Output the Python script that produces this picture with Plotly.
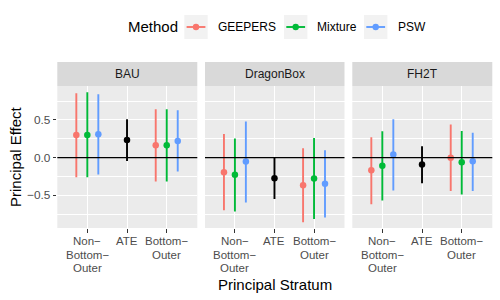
import plotly.graph_objects as go

panels = ["BAU", "DragonBox", "FH2T"]
tick_labels = ["Non\u2212<br>Bottom\u2212<br>Outer", "ATE", "Bottom\u2212<br>Outer"]
methods = ["GEEPERS", "Mixture", "PSW"]
method_colors = ["#F8766D", "#00BA38", "#619CFF"]

# per panel: [Non-Bottom-Outer, Bottom-Outer]
geepers_est = [[0.300, 0.164], [-0.194, -0.366], [-0.167, -0.004]]
geepers_lo = [[-0.260, -0.318], [-0.700, -0.860], [-0.620, -0.445]]
geepers_hi = [[0.853, 0.640], [0.314, 0.124], [0.270, 0.440]]

mixture_est = [[0.300, 0.164], [-0.229, -0.278], [-0.110, -0.061]]
mixture_lo = [[-0.260, -0.318], [-0.715, -0.816], [-0.570, -0.490]]
mixture_hi = [[0.866, 0.640], [0.252, 0.261], [0.350, 0.354]]

psw_est = [[0.310, 0.221], [-0.053, -0.348], [0.040, -0.048]]
psw_lo = [[-0.225, -0.185], [-0.596, -0.794], [-0.437, -0.445]]
psw_hi = [[0.840, 0.628], [0.480, 0.098], [0.510, 0.331]]

ate_est = [0.234, -0.273, -0.093]
ate_lo = [-0.044, -0.550, -0.340]
ate_hi = [0.510, 0.004, 0.150]

est = [geepers_est, mixture_est, psw_est]
lo = [geepers_lo, mixture_lo, psw_lo]
hi = [geepers_hi, mixture_hi, psw_hi]

W, H = 500, 300
FONT = "Liberation Sans, Arial, Helvetica, sans-serif"
TICK_SIZE = 11.8
XLAB_SIZE = 11.5
dodge = 0.277
offsets = [-dodge, 0.0, dodge]

panel_px = [(57.3, 197.3), (205.0, 344.5), (352.3, 492.3)]
y_top_px, y_bot_px = 86.0, 228.0
strip_top_px = 62.0
tick_line_px = [241.2, 254.6, 268.0]

def px(x):
    return x / W

def py(y):
    return 1 - y / H

fig = go.Figure()

for p in range(3):
    suffix = "" if p == 0 else str(p + 1)
    for m in range(3):
        e = est[m][p]
        l = lo[m][p]
        h = hi[m][p]
        fig.add_trace(go.Scatter(
            x=[1 + offsets[m], 3 + offsets[m]], y=e, mode="markers",
            marker=dict(color=method_colors[m], size=6.5),
            error_y=dict(type="data", symmetric=False,
                         array=[h[i] - e[i] for i in range(2)],
                         arrayminus=[e[i] - l[i] for i in range(2)],
                         color=method_colors[m], thickness=1.9, width=0),
            xaxis="x" + suffix, yaxis="y" + suffix, showlegend=False,
            name=methods[m]))
    fig.add_trace(go.Scatter(
        x=[2], y=[ate_est[p]], mode="markers",
        marker=dict(color="black", size=6.5),
        error_y=dict(type="data", symmetric=False,
                     array=[ate_hi[p] - ate_est[p]],
                     arrayminus=[ate_est[p] - ate_lo[p]],
                     color="black", thickness=1.9, width=0),
        xaxis="x" + suffix, yaxis="y" + suffix, showlegend=False, name="ATE"))

layout = dict(
    width=W, height=H, margin=dict(l=0, r=0, t=0, b=0),
    paper_bgcolor="white", plot_bgcolor="#EBEBEB",
    font=dict(family=FONT, size=TICK_SIZE, color="#4D4D4D"),
)

shapes = []
annotations = []
for p in range(3):
    suffix = "" if p == 0 else str(p + 1)
    x0, x1 = panel_px[p]
    layout["xaxis" + suffix] = dict(
        domain=[px(x0), px(x1)], anchor="y" + suffix, range=[0.244, 3.77],
        tickvals=[1, 2, 3], ticktext=tick_labels, showticklabels=False,
        showgrid=True, gridcolor="white", gridwidth=1.3, zeroline=False,
        ticks="outside", ticklen=3.5, tickcolor="#333333", tickwidth=1,
        showline=False, fixedrange=True)
    layout["yaxis" + suffix] = dict(
        domain=[py(y_bot_px), py(y_top_px)], anchor="x" + suffix,
        range=[-0.935, 0.95], tickvals=[-0.5, 0.0, 0.5],
        ticktext=["\u22120.5", "0.0", "0.5"], showticklabels=(p == 0),
        showgrid=True, gridcolor="white", gridwidth=1.3, zeroline=False,
        ticks="outside" if p == 0 else "", ticklen=3.5, tickcolor="#333333",
        tickwidth=1, tickfont=dict(family=FONT, size=TICK_SIZE, color="#4D4D4D"),
        minor=dict(tickvals=[-0.75, -0.25, 0.25, 0.75], showgrid=True,
                   gridcolor="white", gridwidth=0.6, ticks=""),
        showline=False, fixedrange=True)
    # x tick labels, one annotation per line for ggplot-like line spacing
    for k, lab in enumerate(tick_labels):
        for j, line in enumerate(lab.split("<br>")):
            annotations.append(dict(
                text=line, xref="x" + suffix, yref="paper", x=k + 1,
                y=py(tick_line_px[j]), xanchor="center", yanchor="middle",
                showarrow=False, borderpad=0,
                font=dict(family=FONT, size=XLAB_SIZE, color="#4D4D4D")))
    # strip
    shapes.append(dict(type="rect", xref="paper", yref="paper",
                       x0=px(x0), x1=px(x1), y0=py(y_top_px), y1=py(strip_top_px),
                       fillcolor="#D9D9D9", line=dict(width=0), layer="below"))
    annotations.append(dict(text=panels[p], xref="paper", yref="paper",
                            x=px((x0 + x1) / 2), y=py((strip_top_px + y_top_px) / 2),
                            xanchor="center", yanchor="middle", showarrow=False,
                            font=dict(family=FONT, size=12, color="#1A1A1A")))
    # zero reference line
    shapes.append(dict(type="line", xref="x" + suffix + " domain", yref="y" + suffix,
                       x0=0, x1=1, y0=0, y1=0, line=dict(color="black", width=1.3),
                       layer="above"))

# axis titles
annotations.append(dict(text="Principal Effect", xref="paper", yref="paper",
                        x=px(15), y=py((y_top_px + y_bot_px) / 2), textangle=-90,
                        xanchor="center", yanchor="middle", showarrow=False,
                        font=dict(family=FONT, size=15, color="black")))
annotations.append(dict(text="Principal Stratum", xref="paper", yref="paper",
                        x=px((57.3 + 492.3) / 2), y=py(284.6),
                        xanchor="center", yanchor="middle", showarrow=False,
                        borderpad=0,
                        font=dict(family=FONT, size=15, color="black")))

# legend (drawn manually to mimic ggplot key boxes)
annotations.append(dict(text="Method", xref="paper", yref="paper",
                        x=px(125.7), y=py(27), xanchor="left", yanchor="middle",
                        showarrow=False, font=dict(family=FONT, size=15, color="black")))
key_left = [184.3, 284.0, 364.0]
text_left = [216.0, 315.3, 395.7]
for m in range(3):
    kx0 = key_left[m]
    kx1 = kx0 + 23.4
    shapes.append(dict(type="rect", xref="paper", yref="paper",
                       x0=px(kx0), x1=px(kx1), y0=py(39), y1=py(15),
                       fillcolor="#F2F2F2", line=dict(width=0)))
    shapes.append(dict(type="line", xref="paper", yref="paper",
                       x0=px(kx0 + 2.3), x1=px(kx1 - 2.3), y0=py(27), y1=py(27),
                       line=dict(color=method_colors[m], width=1.9)))
    cx = (kx0 + kx1) / 2
    shapes.append(dict(type="circle", xref="paper", yref="paper",
                       x0=px(cx - 3.2), x1=px(cx + 3.2), y0=py(30.2), y1=py(23.8),
                       fillcolor=method_colors[m], line=dict(width=0)))
    annotations.append(dict(text=methods[m], xref="paper", yref="paper",
                            x=px(text_left[m]), y=py(27), xanchor="left",
                            yanchor="middle", showarrow=False,
                            font=dict(family=FONT, size=12, color="black")))

layout["shapes"] = shapes
layout["annotations"] = annotations
fig.update_layout(**layout)
fig.write_html(
    "out.html",
    config={"displayModeBar": False},
    post_script="document.body.style.margin='0';document.body.style.overflow='hidden';",
)
